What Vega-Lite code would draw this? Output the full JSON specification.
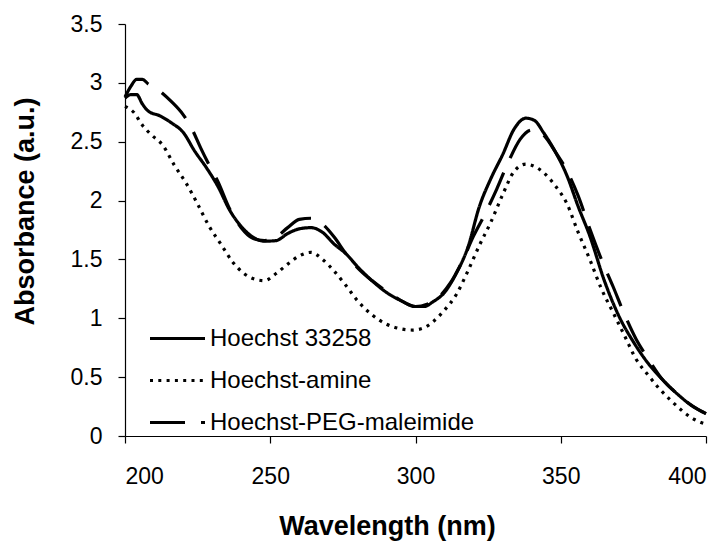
{
  "$schema": "https://vega.github.io/schema/vega-lite/v6.json",
  "width": 581,
  "height": 412,
  "autosize": {"type": "none"},
  "padding": {"left": 125, "top": 24, "right": 22, "bottom": 106},
  "background": "white",
  "config": {
    "view": {"stroke": null},
    "font": "Liberation Sans",
    "axis": {
      "domainColor": "black", "domainWidth": 1.2, "tickColor": "black", "tickWidth": 1.2, "tickSize": 7,
      "labelColor": "black", "labelFont": "Liberation Sans", "labelFontSize": 23,
      "titleColor": "black", "titleFont": "Liberation Sans", "titleFontSize": 27, "titleFontWeight": "bold",
      "grid": false
    }
  },
  "datasets": {
    "spectra": [
      {"w":200,"a":2.87,"s":"Hoechst 33258"},{"w":202,"a":2.9,"s":"Hoechst 33258"},{"w":204,"a":2.9,"s":"Hoechst 33258"},{"w":206,"a":2.82,"s":"Hoechst 33258"},{"w":208,"a":2.76,"s":"Hoechst 33258"},{"w":212,"a":2.72,"s":"Hoechst 33258"},{"w":216,"a":2.66,"s":"Hoechst 33258"},{"w":220,"a":2.58,"s":"Hoechst 33258"},{"w":224,"a":2.42,"s":"Hoechst 33258"},{"w":228,"a":2.28,"s":"Hoechst 33258"},{"w":232,"a":2.12,"s":"Hoechst 33258"},{"w":236,"a":1.92,"s":"Hoechst 33258"},{"w":240,"a":1.78,"s":"Hoechst 33258"},{"w":244,"a":1.69,"s":"Hoechst 33258"},{"w":248,"a":1.655,"s":"Hoechst 33258"},{"w":252,"a":1.66,"s":"Hoechst 33258"},{"w":256,"a":1.72,"s":"Hoechst 33258"},{"w":260,"a":1.76,"s":"Hoechst 33258"},{"w":264,"a":1.77,"s":"Hoechst 33258"},{"w":268,"a":1.73,"s":"Hoechst 33258"},{"w":272,"a":1.63,"s":"Hoechst 33258"},{"w":276,"a":1.55,"s":"Hoechst 33258"},{"w":280,"a":1.44,"s":"Hoechst 33258"},{"w":285,"a":1.32,"s":"Hoechst 33258"},{"w":290,"a":1.22,"s":"Hoechst 33258"},{"w":295,"a":1.15,"s":"Hoechst 33258"},{"w":300,"a":1.1,"s":"Hoechst 33258"},{"w":303,"a":1.1,"s":"Hoechst 33258"},{"w":306,"a":1.14,"s":"Hoechst 33258"},{"w":310,"a":1.22,"s":"Hoechst 33258"},{"w":314,"a":1.38,"s":"Hoechst 33258"},{"w":318,"a":1.6,"s":"Hoechst 33258"},{"w":322,"a":1.95,"s":"Hoechst 33258"},{"w":326,"a":2.19,"s":"Hoechst 33258"},{"w":330,"a":2.39,"s":"Hoechst 33258"},{"w":334,"a":2.61,"s":"Hoechst 33258"},{"w":338,"a":2.7,"s":"Hoechst 33258"},{"w":341,"a":2.68,"s":"Hoechst 33258"},{"w":344,"a":2.58,"s":"Hoechst 33258"},{"w":348,"a":2.42,"s":"Hoechst 33258"},{"w":352,"a":2.22,"s":"Hoechst 33258"},{"w":356,"a":1.95,"s":"Hoechst 33258"},{"w":360,"a":1.7,"s":"Hoechst 33258"},{"w":365,"a":1.32,"s":"Hoechst 33258"},{"w":370,"a":1.02,"s":"Hoechst 33258"},{"w":375,"a":0.8,"s":"Hoechst 33258"},{"w":380,"a":0.62,"s":"Hoechst 33258"},{"w":385,"a":0.48,"s":"Hoechst 33258"},{"w":390,"a":0.36,"s":"Hoechst 33258"},{"w":395,"a":0.26,"s":"Hoechst 33258"},{"w":400,"a":0.19,"s":"Hoechst 33258"},
      {"w":200,"a":2.8,"s":"Hoechst-amine"},{"w":203,"a":2.75,"s":"Hoechst-amine"},{"w":206,"a":2.64,"s":"Hoechst-amine"},{"w":209,"a":2.56,"s":"Hoechst-amine"},{"w":213,"a":2.47,"s":"Hoechst-amine"},{"w":217,"a":2.3,"s":"Hoechst-amine"},{"w":221,"a":2.15,"s":"Hoechst-amine"},{"w":225,"a":1.97,"s":"Hoechst-amine"},{"w":229,"a":1.78,"s":"Hoechst-amine"},{"w":233,"a":1.63,"s":"Hoechst-amine"},{"w":237,"a":1.48,"s":"Hoechst-amine"},{"w":241,"a":1.38,"s":"Hoechst-amine"},{"w":245,"a":1.33,"s":"Hoechst-amine"},{"w":248,"a":1.32,"s":"Hoechst-amine"},{"w":252,"a":1.38,"s":"Hoechst-amine"},{"w":256,"a":1.46,"s":"Hoechst-amine"},{"w":260,"a":1.53,"s":"Hoechst-amine"},{"w":264,"a":1.56,"s":"Hoechst-amine"},{"w":268,"a":1.5,"s":"Hoechst-amine"},{"w":272,"a":1.4,"s":"Hoechst-amine"},{"w":276,"a":1.28,"s":"Hoechst-amine"},{"w":280,"a":1.15,"s":"Hoechst-amine"},{"w":285,"a":1.03,"s":"Hoechst-amine"},{"w":290,"a":0.95,"s":"Hoechst-amine"},{"w":295,"a":0.91,"s":"Hoechst-amine"},{"w":299,"a":0.9,"s":"Hoechst-amine"},{"w":303,"a":0.92,"s":"Hoechst-amine"},{"w":306,"a":0.97,"s":"Hoechst-amine"},{"w":310,"a":1.07,"s":"Hoechst-amine"},{"w":314,"a":1.2,"s":"Hoechst-amine"},{"w":318,"a":1.4,"s":"Hoechst-amine"},{"w":322,"a":1.62,"s":"Hoechst-amine"},{"w":326,"a":1.82,"s":"Hoechst-amine"},{"w":330,"a":2.05,"s":"Hoechst-amine"},{"w":334,"a":2.25,"s":"Hoechst-amine"},{"w":338,"a":2.31,"s":"Hoechst-amine"},{"w":341,"a":2.29,"s":"Hoechst-amine"},{"w":344,"a":2.24,"s":"Hoechst-amine"},{"w":348,"a":2.13,"s":"Hoechst-amine"},{"w":352,"a":1.98,"s":"Hoechst-amine"},{"w":356,"a":1.73,"s":"Hoechst-amine"},{"w":360,"a":1.5,"s":"Hoechst-amine"},{"w":364,"a":1.25,"s":"Hoechst-amine"},{"w":368,"a":1.05,"s":"Hoechst-amine"},{"w":372,"a":0.85,"s":"Hoechst-amine"},{"w":376,"a":0.65,"s":"Hoechst-amine"},{"w":380,"a":0.52,"s":"Hoechst-amine"},{"w":384,"a":0.4,"s":"Hoechst-amine"},{"w":388,"a":0.3,"s":"Hoechst-amine"},{"w":392,"a":0.21,"s":"Hoechst-amine"},{"w":396,"a":0.14,"s":"Hoechst-amine"},{"w":400,"a":0.1,"s":"Hoechst-amine"},
      {"w":200,"a":2.88,"s":"Hoechst-PEG-maleimide"},{"w":202,"a":2.97,"s":"Hoechst-PEG-maleimide"},{"w":204,"a":3.03,"s":"Hoechst-PEG-maleimide"},{"w":206,"a":3.03,"s":"Hoechst-PEG-maleimide"},{"w":208,"a":2.99,"s":"Hoechst-PEG-maleimide"},{"w":212,"a":2.93,"s":"Hoechst-PEG-maleimide"},{"w":216,"a":2.84,"s":"Hoechst-PEG-maleimide"},{"w":220,"a":2.73,"s":"Hoechst-PEG-maleimide"},{"w":223,"a":2.61,"s":"Hoechst-PEG-maleimide"},{"w":226,"a":2.45,"s":"Hoechst-PEG-maleimide"},{"w":229,"a":2.3,"s":"Hoechst-PEG-maleimide"},{"w":232,"a":2.16,"s":"Hoechst-PEG-maleimide"},{"w":236,"a":1.93,"s":"Hoechst-PEG-maleimide"},{"w":240,"a":1.77,"s":"Hoechst-PEG-maleimide"},{"w":244,"a":1.68,"s":"Hoechst-PEG-maleimide"},{"w":248,"a":1.66,"s":"Hoechst-PEG-maleimide"},{"w":252,"a":1.69,"s":"Hoechst-PEG-maleimide"},{"w":256,"a":1.77,"s":"Hoechst-PEG-maleimide"},{"w":260,"a":1.84,"s":"Hoechst-PEG-maleimide"},{"w":264,"a":1.85,"s":"Hoechst-PEG-maleimide"},{"w":268,"a":1.8,"s":"Hoechst-PEG-maleimide"},{"w":272,"a":1.69,"s":"Hoechst-PEG-maleimide"},{"w":276,"a":1.55,"s":"Hoechst-PEG-maleimide"},{"w":280,"a":1.43,"s":"Hoechst-PEG-maleimide"},{"w":285,"a":1.32,"s":"Hoechst-PEG-maleimide"},{"w":290,"a":1.23,"s":"Hoechst-PEG-maleimide"},{"w":295,"a":1.15,"s":"Hoechst-PEG-maleimide"},{"w":300,"a":1.1,"s":"Hoechst-PEG-maleimide"},{"w":304,"a":1.12,"s":"Hoechst-PEG-maleimide"},{"w":308,"a":1.18,"s":"Hoechst-PEG-maleimide"},{"w":312,"a":1.3,"s":"Hoechst-PEG-maleimide"},{"w":316,"a":1.48,"s":"Hoechst-PEG-maleimide"},{"w":320,"a":1.7,"s":"Hoechst-PEG-maleimide"},{"w":324,"a":1.89,"s":"Hoechst-PEG-maleimide"},{"w":328,"a":2.1,"s":"Hoechst-PEG-maleimide"},{"w":332,"a":2.33,"s":"Hoechst-PEG-maleimide"},{"w":336,"a":2.52,"s":"Hoechst-PEG-maleimide"},{"w":340,"a":2.6,"s":"Hoechst-PEG-maleimide"},{"w":342,"a":2.6,"s":"Hoechst-PEG-maleimide"},{"w":345,"a":2.53,"s":"Hoechst-PEG-maleimide"},{"w":348,"a":2.42,"s":"Hoechst-PEG-maleimide"},{"w":352,"a":2.26,"s":"Hoechst-PEG-maleimide"},{"w":356,"a":2.04,"s":"Hoechst-PEG-maleimide"},{"w":360,"a":1.76,"s":"Hoechst-PEG-maleimide"},{"w":364,"a":1.5,"s":"Hoechst-PEG-maleimide"},{"w":368,"a":1.27,"s":"Hoechst-PEG-maleimide"},{"w":372,"a":1.03,"s":"Hoechst-PEG-maleimide"},{"w":376,"a":0.82,"s":"Hoechst-PEG-maleimide"},{"w":380,"a":0.66,"s":"Hoechst-PEG-maleimide"},{"w":385,"a":0.48,"s":"Hoechst-PEG-maleimide"},{"w":390,"a":0.36,"s":"Hoechst-PEG-maleimide"},{"w":395,"a":0.26,"s":"Hoechst-PEG-maleimide"},{"w":400,"a":0.19,"s":"Hoechst-PEG-maleimide"}
    ]
  },
  "data": {"name": "spectra"},
  "mark": {"type": "line", "color": "black", "strokeWidth": 3.2, "strokeCap": "butt", "interpolate": "monotone", "clip": false},
  "encoding": {
    "x": {
      "field": "w", "type": "quantitative",
      "scale": {"domain": [200, 400], "nice": false, "zero": false},
      "axis": {"values": [200, 250, 300, 350, 400], "format": "d", "labelPadding": 22, "title": "Wavelength (nm)", "titleX": 262, "titleY": 98, "titleBaseline": "alphabetic", "titleAnchor": null}
    },
    "y": {
      "field": "a", "type": "quantitative",
      "scale": {"domain": [0, 3.5], "nice": false},
      "axis": {"values": [0, 0.5, 1, 1.5, 2, 2.5, 3, 3.5], "format": "~g", "labelPadding": 16, "title": "Absorbance (a.u.)", "titleX": -92, "titleY": 187, "titleAngle": -90, "titleBaseline": "alphabetic", "titleAlign": "center"}
    },
    "strokeDash": {
      "field": "s", "type": "nominal",
      "scale": {"domain": ["Hoechst 33258", "Hoechst-amine", "Hoechst-PEG-maleimide"], "range": [[1, 0], [3, 5.3], [35, 16]]},
      "legend": {
        "title": null, "orient": "none", "legendX": 23, "legendY": 285, "padding": 0,
        "symbolType": "stroke", "symbolSize": 3025, "symbolStrokeWidth": 3.2, "symbolStrokeColor": "black",
        "labelFont": "Liberation Sans", "labelFontSize": 24, "labelColor": "black", "labelLimit": 400, "labelOffset": 3,
        "rowPadding": -7.5
      }
    }
  }
}
